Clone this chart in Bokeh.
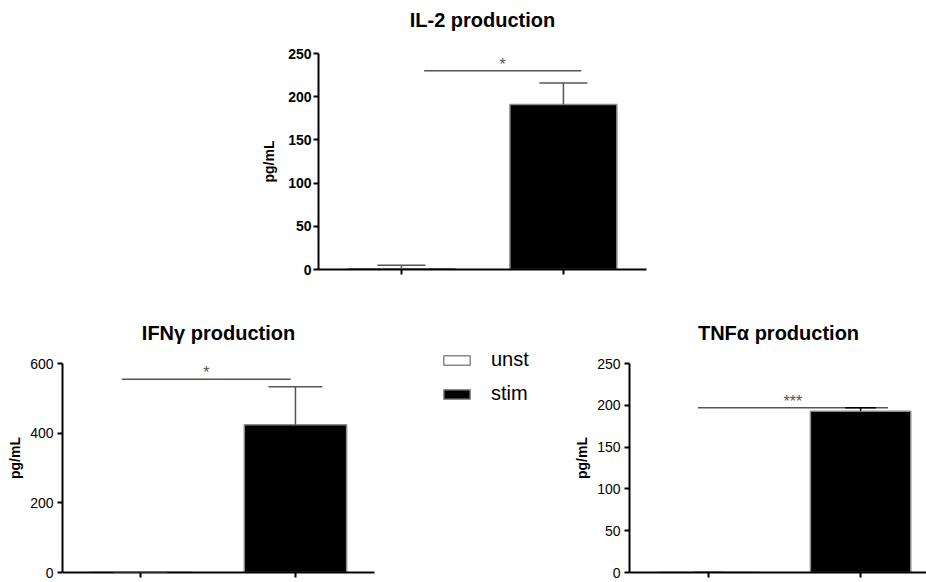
from bokeh.plotting import figure
from bokeh.layouts import column, row
from bokeh.models import (Range1d, FixedTicker, Whisker, TeeHead, ColumnDataSource,
                          Legend, LegendItem, Spacer, Title, CustomJSTickFormatter)
from bokeh.core.properties import value
from bokeh.embed import file_html
from bokeh.resources import INLINE

# ---------------- data ----------------
categories = ["unst", "stim"]
bar_fill = ["white", "black"]

il2_mean = [1, 191]
il2_err = [4, 25]
ifng_mean = [0, 424]
ifng_err = [0, 109]
tnfa_mean = [0, 193]
tnfa_err = [0, 4]

il2_yticks = [0, 50, 100, 150, 200, 250]
ifng_yticks = [0, 200, 400, 600]
tnfa_yticks = [0, 50, 100, 150, 200, 250]

# significance brackets: [x start, x end] in category units, height, label
il2_sig_x = [0.14, 1.11]
il2_sig_y = 230
il2_sig_label = "*"
ifng_sig_x = [-0.12, 0.97]
ifng_sig_y = 555
ifng_sig_label = "*"
tnfa_sig_x = [-0.07, 1.18]
tnfa_sig_y = 197
tnfa_sig_label = "***"

FONT = "Liberation Sans"


def make_chart(title, means, errs, yticks, xr, frame_w, frame_h, borders,
               tick_bold, cap, err_color, sig_x, sig_y, sig_label,
               label_standoff, axis_label_standoff, title_standoff,
               title_gap=0, title_offset=0, headroom=1.0):
    mbl, mbr, mbt, mbb = borders
    p = figure(frame_width=frame_w, frame_height=frame_h,
               x_range=Range1d(*xr), y_range=Range1d(0, yticks[-1] * headroom),
               min_border_left=mbl, min_border_right=mbr,
               min_border_top=mbt, min_border_bottom=mbb,
               toolbar_location=None, output_backend="svg", title=None,
               outline_line_color=None, background_fill_color="white")
    if title_gap:
        # blank spacer between the frame and the title
        p.add_layout(Title(text=" ", text_font_size="1px", standoff=title_gap), "above")
    p.add_layout(Title(text=title, align="center", text_font_size="20px",
                       text_font_style="bold", text_font=FONT, standoff=title_standoff,
                       offset=title_offset, text_color="black"), "above")
    p.xgrid.visible = False
    p.ygrid.visible = False

    xs = list(range(len(categories)))
    src = ColumnDataSource(dict(
        x=xs, cat=categories, top=means, fill=bar_fill,
        lower=means, upper=[m + e for m, e in zip(means, errs)]))
    p.vbar(x="x", top="top", width=0.66, source=src, fill_color="fill",
           line_color="#8a8a8a", line_width=1.5)
    p.add_layout(Whisker(source=src, base="x", lower="lower", upper="upper",
                         dimension="height", line_color=err_color, line_width=1.5,
                         lower_head=None,
                         upper_head=TeeHead(size=cap, line_color=err_color, line_width=1.5),
                         level="overlay"))

    # significance bracket
    p.segment(x0=[sig_x[0]], x1=[sig_x[1]], y0=[sig_y], y1=[sig_y],
              line_color="#555555", line_width=1.5)
    p.text(x=[(sig_x[0] + sig_x[1]) / 2], y=[sig_y], text=[sig_label],
           text_align="center", text_baseline="bottom", y_offset=2,
           text_font=value(FONT), text_font_size="16px", text_color="#555555")

    # axes
    p.yaxis.ticker = FixedTicker(ticks=yticks)
    p.yaxis.bounds = (yticks[0], yticks[-1])
    p.yaxis.axis_label = "pg/mL"
    p.yaxis.axis_label_text_font = FONT
    p.yaxis.axis_label_text_font_style = "bold"
    p.yaxis.axis_label_text_font_size = "14px"
    p.yaxis.axis_label_text_color = "black"
    p.yaxis.axis_label_standoff = axis_label_standoff
    p.yaxis.major_label_text_font = FONT
    p.yaxis.major_label_text_font_size = "14px"
    p.yaxis.major_label_text_font_style = "bold" if tick_bold else "normal"
    p.yaxis.major_label_standoff = label_standoff
    p.xaxis.ticker = FixedTicker(ticks=xs)
    p.xaxis.formatter = CustomJSTickFormatter(code="return ''")
    p.xaxis.major_label_standoff = 0
    p.xaxis.major_label_text_font_size = "1px"
    for ax in (p.xaxis, p.yaxis):
        ax.axis_line_width = 2
        ax.axis_line_color = "black"
        ax.major_tick_line_width = 2
        ax.major_tick_line_color = "black"
        ax.major_tick_in = 0
        ax.major_tick_out = 5
        ax.minor_tick_line_color = None
        ax.major_label_text_color = "black"
    return p, src


fig_top, _ = make_chart("IL-2 production", il2_mean, il2_err, il2_yticks,
                        (-0.512, 1.513), 328, 216, (110, 50, 53, 21),
                        True, 48, "#555555", il2_sig_x, il2_sig_y, il2_sig_label,
                        2, 8, 2, title_gap=19)

# lower charts: frame extends a little above the top tick so the legend beside them fits
LOW_HEADROOM = 229 / 209

fig_left, left_src = make_chart("IFN\u03b3 production", ifng_mean, ifng_err, ifng_yticks,
                                (-0.503, 1.51), 312, 229, (62, 1, 53, 10),
                                False, 54, "#555555", ifng_sig_x, ifng_sig_y, ifng_sig_label,
                                4, 4, 0, headroom=LOW_HEADROOM)

fig_right, _ = make_chart("TNF\u03b1 production", tnfa_mean, tnfa_err, tnfa_yticks,
                          (-0.52, 1.44), 298, 229, (56, 1, 53, 10),
                          False, 31, "black", tnfa_sig_x, tnfa_sig_y, tnfa_sig_label,
                          4, 4, 0, title_offset=12, headroom=LOW_HEADROOM)

# shared legend panel between the two lower charts
fig_leg = figure(width=196, height=292, x_range=Range1d(0, 1), y_range=Range1d(0, 1),
                 min_border=0, toolbar_location=None, output_backend="svg",
                 outline_line_color=None, title=None,
                 x_axis_location=None, y_axis_location=None)
fig_leg.grid.visible = False
leg_r = fig_leg.vbar(x="x", top="top", width=0.66, source=left_src, fill_color="fill",
                     line_color="#8a8a8a", line_width=1.5, visible=False)
items = [LegendItem(label=value(cat), renderers=[leg_r], index=i)
         for i, cat in enumerate(categories)]
leg = Legend(items=items, location=(65, 167), glyph_width=33, glyph_height=12,
             label_standoff=18, spacing=11, padding=0, margin=0,
             border_line_color=None, background_fill_alpha=0,
             inactive_fill_alpha=0,
             label_text_font=FONT, label_text_font_size="20px",
             label_text_color="black")
fig_leg.add_layout(leg)

layout = column(row(Spacer(width=208, height=290), fig_top),
                row(fig_left, fig_leg, fig_right))

open("out.html", "w").write(file_html(layout, INLINE))
